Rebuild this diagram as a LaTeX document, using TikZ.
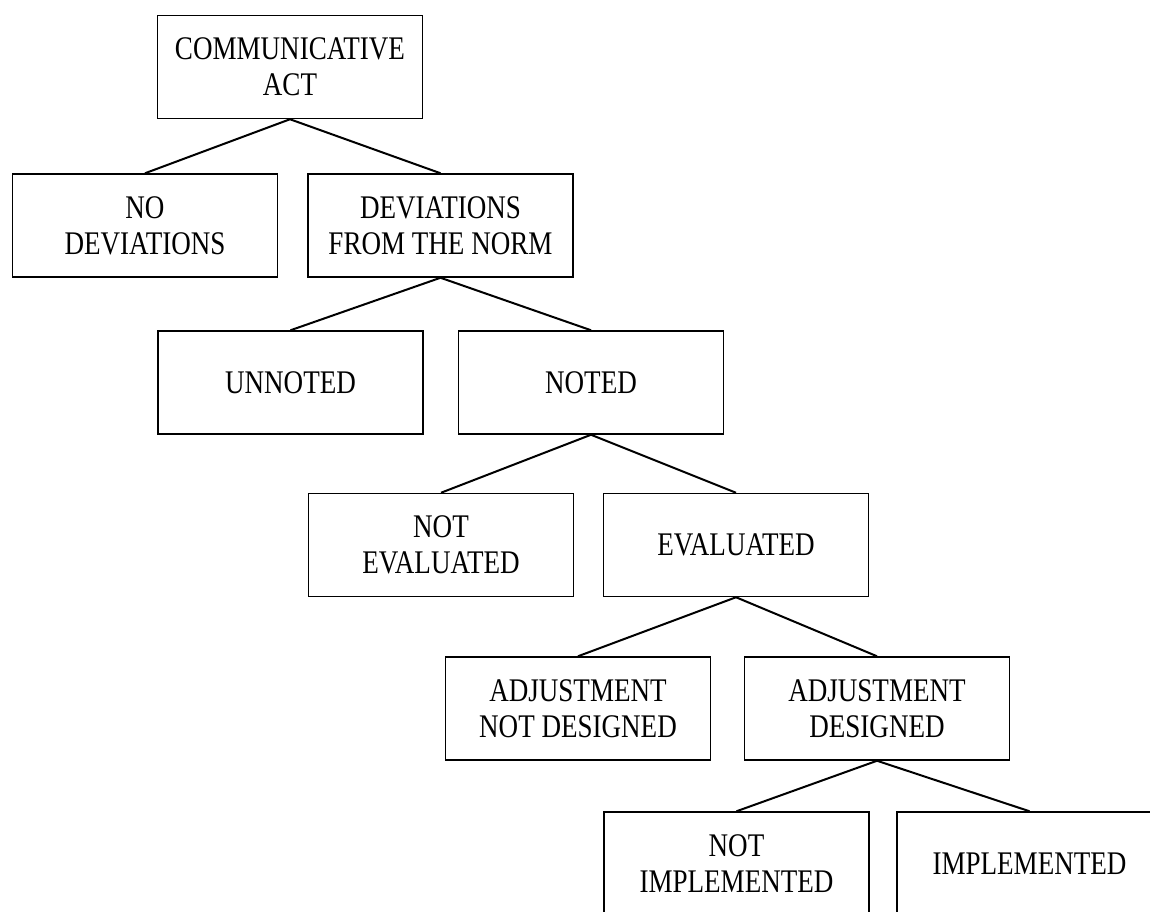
\documentclass[tikz,border=0pt]{standalone}
\usepackage{fontspec}
\setmainfont[FakeStretch=0.82]{Liberation Serif}
\begin{document}
\begin{tikzpicture}[x=0.5pt,y=-0.5pt,
  catbox/.style={draw=black, line width=0.75pt, minimum width=132.5pt, minimum height=51.5pt,
    inner sep=0pt, align=center, font=\fontsize{16.5}{18}\selectfont, fill=white},
  branch/.style={draw=black, line width=1pt}]
\useasboundingbox (0,0) rectangle (1150,911);
\clip (0,0) rectangle (1150,911);
\fill[white] (0,0) rectangle (1150,911);
\node[catbox] (comm) at (290,67) {COMMUNICATIVE\\ACT};
\node[catbox] (nodev) at (145,225.5) {NO\\DEVIATIONS};
\node[catbox] (dev) at (440.5,225.5) {DEVIATIONS\\FROM THE NORM};
\node[catbox] (unnoted) at (290.5,382.5) {UNNOTED};
\node[catbox] (noted) at (591,382.5) {NOTED};
\node[catbox] (noteval) at (441,545) {NOT\\EVALUATED};
\node[catbox] (eval) at (736,545) {EVALUATED};
\node[catbox] (adjnot) at (578,708.5) {ADJUSTMENT\\NOT DESIGNED};
\node[catbox] (adjdes) at (877,708.5) {ADJUSTMENT\\DESIGNED};
\node[catbox] (notimpl) at (736.5,863.5) {NOT\\IMPLEMENTED};
\node[catbox] (impl) at (1029.5,863.5) {IMPLEMENTED};
\draw[branch] (comm.south) -- (nodev.north);
\draw[branch] (comm.south) -- (dev.north);
\draw[branch] (dev.south) -- (unnoted.north);
\draw[branch] (dev.south) -- (noted.north);
\draw[branch] (noted.south) -- (noteval.north);
\draw[branch] (noted.south) -- (eval.north);
\draw[branch] (eval.south) -- (adjnot.north);
\draw[branch] (eval.south) -- (adjdes.north);
\draw[branch] (adjdes.south) -- (notimpl.north);
\draw[branch] (adjdes.south) -- (impl.north);
\end{tikzpicture}
\end{document}
